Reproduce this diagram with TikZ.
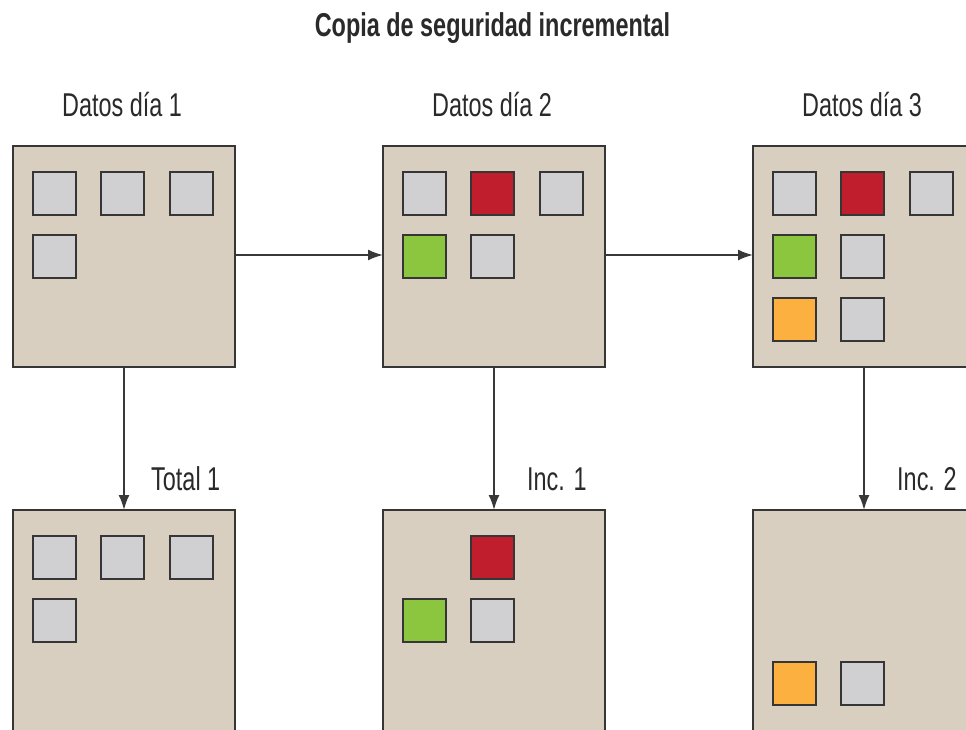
\documentclass[tikz,border=0pt]{standalone}
\usepackage{fontspec}
\setmainfont[FakeStretch=0.71]{Liberation Sans}
\usetikzlibrary{arrows.meta}
\definecolor{boxfill}{HTML}{D8CFC0}
\definecolor{edge}{HTML}{363636}
\definecolor{conncol}{HTML}{383838}
\definecolor{greysq}{HTML}{D0D0D3}
\definecolor{redsq}{HTML}{C01E2D}
\definecolor{greensq}{HTML}{8CC63F}
\definecolor{orangesq}{HTML}{FBB040}
\definecolor{txt}{HTML}{2A2A2A}
\begin{document}
\begin{tikzpicture}[x=1pt,y=-1pt,
  bigbox/.style={draw=edge, fill=boxfill, line width=2.6pt, minimum width=222pt, minimum height=221pt, inner sep=0pt, outer sep=0pt, anchor=north west},
  tallbox/.style={bigbox, minimum height=260pt},
  sq/.style={draw=edge, line width=2.2pt, minimum size=43pt, inner sep=0pt, outer sep=0pt, anchor=north west},
  conn/.style={draw=conncol, line width=2pt, -{Latex[length=15pt,width=11pt]}},
  lbl/.style={font=\fontsize{33}{36}\selectfont, text=txt, inner sep=0pt, anchor=base},
  lbll/.style={lbl, anchor=base west},
  ttl/.style={font=\bfseries\fontsize{33}{36}\selectfont, text=txt, inner sep=0pt, anchor=base}]
\useasboundingbox (0,0) rectangle (966,730);
\clip (0,0) rectangle (966,730);
\fill[white] (0,0) rectangle (966,730);

% title
\node[ttl] (title) at (492.5,37) {Copia de seguridad incremental};

% top labels
\node[lbl] (l1) at (122,117) {Datos día 1};
\node[lbl] (l2) at (492,117) {Datos día 2};
\node[lbl] (l3) at (862,117) {Datos día 3};

% top boxes
\node[bigbox] (d1) at (13,146) {};
\node[bigbox] (d2) at (383,146) {};
\node[bigbox] (d3) at (753,146) {};

% bottom boxes
\node[tallbox] (b1) at (13,510) {};
\node[tallbox] (b2) at (383,510) {};
\node[tallbox] (b3) at (753,510) {};

% day 1 squares
\node[sq, fill=greysq] (d1a) at (33,172) {};
\node[sq, fill=greysq] (d1b) at (101,172) {};
\node[sq, fill=greysq] (d1c) at (170,172) {};
\node[sq, fill=greysq] (d1d) at (33,235) {};

% day 2 squares
\node[sq, fill=greysq] (d2a) at (403,172) {};
\node[sq, fill=redsq] (d2b) at (471,172) {};
\node[sq, fill=greysq] (d2c) at (540,172) {};
\node[sq, fill=greensq] (d2d) at (403,235) {};
\node[sq, fill=greysq] (d2e) at (471,235) {};

% day 3 squares
\node[sq, fill=greysq] (d3a) at (773,172) {};
\node[sq, fill=redsq] (d3b) at (841,172) {};
\node[sq, fill=greysq] (d3c) at (910,172) {};
\node[sq, fill=greensq] (d3d) at (773,235) {};
\node[sq, fill=greysq] (d3e) at (841,235) {};
\node[sq, fill=orangesq] (d3f) at (773,298) {};
\node[sq, fill=greysq] (d3g) at (841,298) {};

% total 1 squares
\node[sq, fill=greysq] (b1a) at (33,536) {};
\node[sq, fill=greysq] (b1b) at (101,536) {};
\node[sq, fill=greysq] (b1c) at (170,536) {};
\node[sq, fill=greysq] (b1d) at (33,599) {};

% inc 1 squares
\node[sq, fill=redsq] (b2b) at (471,536) {};
\node[sq, fill=greensq] (b2d) at (403,599) {};
\node[sq, fill=greysq] (b2e) at (471,599) {};

% inc 2 squares
\node[sq, fill=orangesq] (b3f) at (773,662) {};
\node[sq, fill=greysq] (b3g) at (841,662) {};

% connectors
\draw[conn] (d1.east |- 0,255) -- (d2.west |- 0,255);
\draw[conn] (d2.east |- 0,255) -- (d3.west |- 0,255);
\draw[conn] (d1.south) -- (b1.north);
\draw[conn] (d2.south) -- (b2.north);
\draw[conn] (d3.south) -- (b3.north);

% bottom labels
\node[lbll] (t1) at (151,490) {Total 1};
\node[lbll] (t2) at (527,490) {Inc. 1};
\node[lbll] (t3) at (897,490) {Inc. 2};
\end{tikzpicture}
\end{document}
